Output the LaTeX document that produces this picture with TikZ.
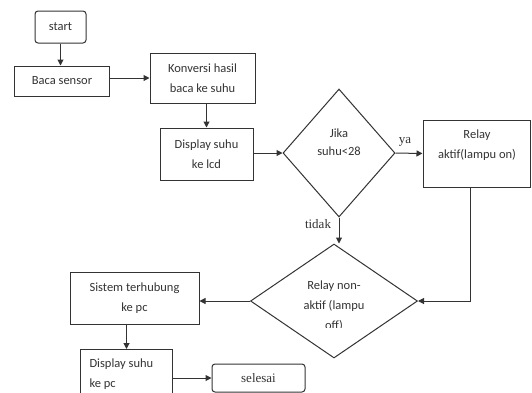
\documentclass[tikz,border=0pt]{standalone}
\usepackage{fontspec}
\setmainfont{Carlito}
\newfontfamily\serifface{Liberation Serif}
\usetikzlibrary{shapes.geometric,arrows.meta}
\definecolor{ln}{HTML}{333333}
\begin{document}
\begin{tikzpicture}[x=1pt,y=-1pt,
  every node/.style={font=\fontsize{12.5}{20}\selectfont, text=ln},
  box/.style={draw=ln, line width=1pt, rectangle, inner sep=0pt, align=center},
  rbox/.style={box, rounded corners=3pt},
  dia/.style={draw=ln, line width=1pt, diamond, inner sep=0pt},
  arr/.style={draw=ln, line width=1pt, -{Triangle[length=6pt,width=6pt]}},
  lbl/.style={font=\serifface\fontsize{13}{15}\selectfont}]
\useasboundingbox (0,0) rectangle (532,392);
\clip (0,0) rectangle (532,392);
\fill[white] (0,0) rectangle (532,392);

\node[rbox, minimum width=51pt, minimum height=32pt] (start) at (60.5,27) {start};
\node[box, minimum width=95pt, minimum height=30pt] (baca) at (62,81) {Baca sensor};
\node[box, minimum width=105pt, minimum height=50pt] (konv) at (202.5,78) {Konversi hasil\\baca ke suhu};
\node[box, minimum width=93pt, minimum height=52pt] (lcd) at (206.5,154) {Display suhu\\ke lcd};
\node[dia, minimum width=112pt, minimum height=128pt] (jika) at (339,153) {};
\node[align=center] (jikat) at (339,142) {Jika\\[-2pt]suhu<28};
\node[box, minimum width=107pt, minimum height=67pt] (aktif) at (476.5,153.5) {};
\node[align=center] (aktift) at (477,145) {Relay\\aktif(lampu on)};
\node[dia, minimum width=167pt, minimum height=114pt] (non) at (334,301) {};
\begin{scope}
\clip (250,270) rectangle (420,327);
\node[align=center] (nont) at (334,306) {Relay non-\\aktif (lampu\\off)};
\end{scope}
\node[box, minimum width=129pt, minimum height=52pt] (sis) at (134.5,298) {Sistem terhubung\\ke pc};
\node[box, minimum width=92pt, minimum height=52pt, anchor=north west] (pc) at (80,349) {};
\node[anchor=north west, align=left] (pct) at (86,355) {Display suhu\\ke pc};
\node[rbox, minimum width=93pt, minimum height=28pt, font=\serifface\fontsize{13}{15}\selectfont] (sel) at (258.5,378) {selesai};

\node[lbl] (ya) at (405,142) {ya};
\node[lbl] (tidak) at (318,224) {tidak};

\draw[arr] (start.south) -- (start.south |- baca.north);
\draw[arr] (baca.east |- konv.west) -- (konv.west);
\draw[arr] (lcd.north |- konv.south) -- (lcd.north);
\draw[arr] (lcd.east |- jika.west) -- (jika.west);
\draw[arr] (jika.east) -- (aktif.west);
\draw[arr] (jika.south) -- (jika.south |- non.north);
\draw[arr] ([xshift=-6pt]aktif.south) |- (non.east);
\draw[arr] (non.west) -- (non.west -| sis.east);
\draw[arr] ([xshift=-8pt]sis.south) -- ([xshift=-8pt]sis.south |- pc.north);
\draw[arr] (pc.east |- sel.west) -- (sel.west);
\end{tikzpicture}
\end{document}
